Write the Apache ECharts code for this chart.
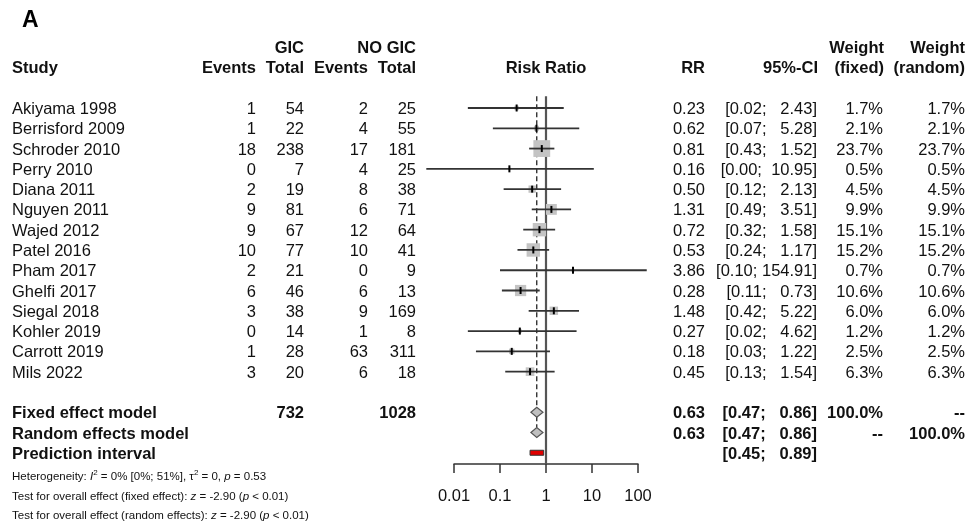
<!DOCTYPE html>
<html>
<head>
<meta charset="utf-8">
<script src="https://cdn.jsdelivr.net/npm/echarts@6/dist/echarts.min.js"></script>
<style>
html,body{margin:0;padding:0;background:#fff;}
#main{width:978px;height:523px;}
</style>
</head>
<body>
<div id="main"></div>
<script>
// study data
var studies = ['Akiyama 1998','Berrisford 2009','Schroder 2010','Perry 2010','Diana 2011','Nguyen 2011',
	'Wajed 2012','Patel 2016','Pham 2017','Ghelfi 2017','Siegal 2018','Kohler 2019','Carrott 2019','Mils 2022'];
var gicEvents = [1,1,18,0,2,9,9,10,2,6,3,0,1,3];
var gicTotal  = [54,22,238,7,19,81,67,77,21,46,38,14,28,20];
var noEvents  = [2,4,17,4,8,6,12,10,0,6,9,1,63,6];
var noTotal   = [25,55,181,25,38,71,64,41,9,13,169,8,311,18];
var rr     = [0.23,0.62,0.81,0.16,0.50,1.31,0.72,0.53,3.86,0.28,1.48,0.27,0.18,0.45];
var ciLow  = [0.02,0.07,0.43,0.0025,0.12,0.49,0.32,0.24,0.10,0.11,0.42,0.02,0.03,0.13];
var ciHigh = [2.43,5.28,1.52,10.95,2.13,3.51,1.58,1.17,154.91,0.73,5.22,4.62,1.22,1.54];
var wFixed  = [1.7,2.1,23.7,0.5,4.5,9.9,15.1,15.2,0.7,10.6,6.0,1.2,2.5,6.3];
var wRandom = [1.7,2.1,23.7,0.5,4.5,9.9,15.1,15.2,0.7,10.6,6.0,1.2,2.5,6.3];

// pooled estimates
var models    = ['Fixed effect model','Random effects model','Prediction interval'];
var modelRR   = [0.63,0.63,null];
var modelLow  = [0.47,0.47,0.45];
var modelHigh = [0.86,0.86,0.89];
var modelWFixed  = ['100.0%','--',''];
var modelWRandom = ['--','100.0%',''];
var totalGic = 732, totalNo = 1028;

var axisTicks = [0.01,0.1,1,10,100];

var FONT = '"Liberation Sans", Arial, sans-serif';
var FS = 16.5;
var INK = '#111';
var nStudy = studies.length;
var modelRow0 = nStudy + 1;

function fmt(v){ return v.toFixed(2); }
function ciText(lo, hi){
	var h = fmt(hi);
	while(h.length < 6) h = ' ' + h;
	return '[' + fmt(lo) + '; ' + h + ']';
}

// table cells
var cells = [];
function cell(x, row, text, align, bold){
	cells.push({x:x, row:row, text:String(text), align:align || 'right', bold:!!bold});
}
cell(304,-3,'GIC','right',true);
cell(416,-3,'NO GIC','right',true);
cell(884,-3,'Weight','right',true);
cell(965,-3,'Weight','right',true);
cell(12,-2,'Study','left',true);
cell(256,-2,'Events','right',true);
cell(304,-2,'Total','right',true);
cell(368,-2,'Events','right',true);
cell(416,-2,'Total','right',true);
cell(null,-2,'Risk Ratio','center',true);
cell(705,-2,'RR','right',true);
cell(818,-2,'95%-CI','right',true);
cell(884,-2,'(fixed)','right',true);
cell(965,-2,'(random)','right',true);

for(var i=0;i<nStudy;i++){
	cell(12,i,studies[i],'left');
	cell(256,i,gicEvents[i]);
	cell(304,i,gicTotal[i]);
	cell(368,i,noEvents[i]);
	cell(416,i,noTotal[i]);
	cell(705,i,fmt(rr[i]));
	cell(817,i,ciText(ciLow[i],ciHigh[i]));
	cell(883,i,wFixed[i].toFixed(1)+'%');
	cell(965,i,wRandom[i].toFixed(1)+'%');
}
for(var m=0;m<models.length;m++){
	var r = modelRow0 + m;
	cell(12,r,models[m],'left',true);
	if(modelRR[m] != null) cell(705,r,fmt(modelRR[m]),'right',true);
	cell(817,r,ciText(modelLow[m],modelHigh[m]),'right',true);
	if(modelWFixed[m]) cell(883,r,modelWFixed[m],'right',true);
	if(modelWRandom[m]) cell(965,r,modelWRandom[m],'right',true);
}
cell(304,modelRow0,totalGic,'right',true);
cell(416,modelRow0,totalNo,'right',true);

var notes = [
	'{n|Heterogeneity: }{i|I}{s|2}{n| = 0% [0%; 51%], τ}{s|2}{n| = 0, }{i|p}{n| = 0.53}',
	'{n|Test for overall effect (fixed effect): }{i|z}{n| = -2.90 (}{i|p}{n| < 0.01)}',
	'{n|Test for overall effect (random effects): }{i|z}{n| = -2.90 (}{i|p}{n| < 0.01)}'
];
var noteRows = [18.2,19.15,20.1];

var chart = echarts.init(document.getElementById('main'));

var option = {
	animation:false,
	title:{
		text:'A', left:22, top:9, padding:0,
		textStyle:{fontSize:23, fontWeight:'bold', fontFamily:FONT, color:'#000'}
	},
	grid:[
		{left:454, width:184, top:6.6, height:507},
		{left:454, width:184, top:463, height:1}
	],
	xAxis:[
		{type:'log', logBase:10, min:0.01, max:100, gridIndex:0, show:false},
		{
			type:'log', logBase:10, min:0.01, max:100, gridIndex:1, position:'bottom',
			axisLine:{show:true, lineStyle:{color:'#333', width:1.5}},
			axisTick:{show:true, length:9, lineStyle:{color:'#333', width:1.5}},
			splitLine:{show:false},
			axisLabel:{
				margin:24, fontSize:FS, fontFamily:FONT, color:INK,
				formatter:function(v){ return String(+(+v).toPrecision(3)); }
			}
		}
	],
	yAxis:[
		{type:'value', inverse:true, min:-5, max:20, gridIndex:0, show:false},
		{type:'value', gridIndex:1, show:false}
	],
	series:[
		{
			// null effect line and pooled (fixed) effect line
			type:'custom', xAxisIndex:0, yAxisIndex:0, z:1,
			data:[[1,-0.58,modelRow0+2.55,0],[modelRR[0],-0.58,modelRow0+0.75,1]],
			renderItem:function(params, api){
				var p0 = api.coord([api.value(0), api.value(1)]);
				var p1 = api.coord([api.value(0), api.value(2)]);
				var dashed = api.value(3) === 1;
				return {
					type:'line',
					shape:{x1:p0[0], y1:p0[1], x2:p1[0], y2:p1[1]},
					style:dashed ? {stroke:'#111', lineWidth:1.2, lineDash:[5,3]} : {stroke:'#555', lineWidth:2.2}
				};
			}
		},
		{
			type:'custom', xAxisIndex:0, yAxisIndex:0, z:2,
			data:rr.map(function(v,i){ return [v, ciLow[i], ciHigh[i], i, wFixed[i]]; }),
			renderItem:function(params, api){
				var row = api.value(3);
				var pc = api.coord([api.value(0), row]);
				var pl = api.coord([api.value(1), row]);
				var ph = api.coord([api.value(2), row]);
				var s = 3.45 * Math.sqrt(api.value(4));
				return {type:'group', children:[
					{type:'rect', shape:{x:pc[0]-s/2, y:pc[1]-s/2, width:s, height:s}, style:{fill:'#c4c4c4'}},
					{type:'line', shape:{x1:pl[0], y1:pl[1], x2:ph[0], y2:ph[1]}, style:{stroke:'#333', lineWidth:1.8}},
					{type:'line', shape:{x1:pc[0], y1:pc[1]-3.5, x2:pc[0], y2:pc[1]+3.5}, style:{stroke:'#000', lineWidth:2}}
				]};
			}
		},
		{
			// pooled diamonds and prediction interval
			type:'custom', xAxisIndex:0, yAxisIndex:0, z:3,
			data:models.map(function(n,m){ return [modelRR[m] == null ? 0 : modelRR[m], modelLow[m], modelHigh[m], modelRow0+m, modelRR[m] == null ? 1 : 0]; }),
			renderItem:function(params, api){
				var row = api.value(3);
				var pl = api.coord([api.value(1), row]);
				var ph = api.coord([api.value(2), row]);
				if(api.value(4) === 1){
					return {type:'rect', shape:{x:pl[0], y:pl[1]-2.5, width:ph[0]-pl[0], height:5},
						style:{fill:'#e00000', stroke:'#333', lineWidth:1}};
				}
				var pc = api.coord([api.value(0), row]);
				return {type:'polygon', shape:{points:[[pl[0],pl[1]],[pc[0],pc[1]-5],[ph[0],ph[1]],[pc[0],pc[1]+5]]},
					style:{fill:'#bfbfbf', stroke:'#555', lineWidth:1.2}};
			}
		},
		{
			// table text
			type:'custom', xAxisIndex:0, yAxisIndex:0, z:4, silent:true,
			data:cells.map(function(c){ return [1, c.row]; }),
			renderItem:function(params, api){
				var c = cells[params.dataIndex];
				var p = api.coord([1, c.row]);
				return {type:'text', x:c.x == null ? p[0] : c.x, y:p[1] + 1.5,
					style:{text:c.text, align:c.align, verticalAlign:'middle', fill:INK,
						fontSize:FS, fontFamily:FONT, fontWeight:c.bold ? 'bold' : 'normal'}};
			}
		},
		{
			// footnotes
			type:'custom', xAxisIndex:0, yAxisIndex:0, z:4, silent:true,
			data:notes.map(function(t,k){ return [1, noteRows[k]]; }),
			renderItem:function(params, api){
				var p = api.coord([1, noteRows[params.dataIndex]]);
				return {type:'text', x:12, y:p[1],
					style:{text:notes[params.dataIndex], align:'left', verticalAlign:'middle', fill:INK,
						fontSize:11.5, fontFamily:FONT,
						rich:{
							n:{fontSize:11.5, fontFamily:FONT, fill:INK, lineHeight:16},
							i:{fontSize:11.5, fontFamily:FONT, fill:INK, fontStyle:'italic', lineHeight:16},
							s:{fontSize:8, fontFamily:FONT, fill:INK, verticalAlign:'top', lineHeight:9}
						}}};
			}
		}
	]
};

chart.setOption(option);
</script>
</body>
</html>
